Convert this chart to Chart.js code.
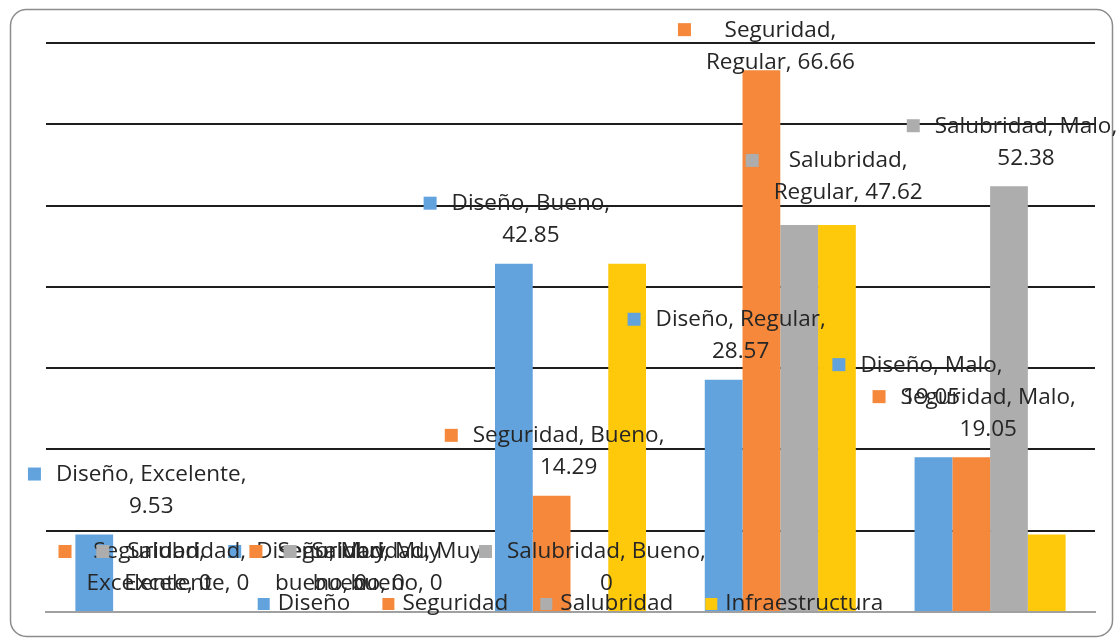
<!DOCTYPE html>
<html>
<head>
<meta charset="utf-8">
<script src="https://cdn.jsdelivr.net/npm/chart.js@4.4.1/dist/chart.umd.min.js"></script>
<style>
  html, body { margin: 0; padding: 0; background: #fff; }
</style>
</head>
<body>
<canvas id="myChartCalificacion" width="1117" height="641"></canvas>
<script>
// categorias y valores (porcentajes) por aspecto evaluado
const categorias = ["Excelente", "Muy bueno", "Bueno", "Regular", "Malo"];
const aspectos = ["Diseño", "Seguridad", "Salubridad", "Infraestructura"];
const valoresDiseno = [9.53, 0, 42.85, 28.57, 19.05];
const valoresSeguridad = [0, 0, 14.29, 66.66, 19.05];
const valoresSalubridad = [0, 0, 0, 47.62, 52.38];
const valoresInfraestructura = [0, 0, 42.85, 47.62, 9.53];
const ticksY = [0, 10, 20, 30, 40, 50, 60, 70];

const colores = ["#62A3DD", "#F5883A", "#ADADAD", "#FFC90B"];
const fuente = "22.5px 'Open Sans'";
const colorTexto = "#262626";

// ajuste manual de algunas etiquetas: [dx desde el centro de la barra, dy desde el tope]
const desplazamientos = {
  "0-0": [57, -28],
  "0-4": [-2, -60],
  "1-3": [19, -8],
  "2-3": [49, -32],
};
// cuantas palabras van en la primera linea de la etiqueta
const cortes = { "1-0": 1, "2-0": 1, "1-3": 1, "2-3": 1 };

const ctxCalificacion = document.getElementById("myChartCalificacion").getContext("2d");

/*------------------------------------------
Marco redondeado alrededor del grafico
-------------------------------------------*/
const marcoPlugin = {
  id: "marco",
  beforeDraw(chart) {
    const ctx = chart.ctx;
    ctx.save();
    ctx.strokeStyle = "#8c8c8c";
    ctx.lineWidth = 1.5;
    ctx.beginPath();
    ctx.roundRect(10.5, 9.5, 1102, 627, 16);
    ctx.stroke();
    ctx.restore();
  },
};

/*------------------------------------------
Etiquetas de datos estilo "serie, categoria, valor" con su cuadrito
-------------------------------------------*/
const etiquetasPlugin = {
  id: "etiquetas",
  afterDatasetsDraw(chart) {
    const ctx = chart.ctx;
    ctx.save();
    ctx.font = fuente;
    ctx.textAlign = "center";
    ctx.textBaseline = "middle";
    chart.data.datasets.forEach((ds, di) => {
      if (!ds.conEtiqueta) return;
      chart.getDatasetMeta(di).data.forEach((bar, i) => {
        const clave = di + "-" + i;
        const off = desplazamientos[clave] || [17, -28];
        const corte = cortes[clave] || 2;
        const palabras = `${ds.label}, ${categorias[i]}, ${ds.data[i]}`.split(" ");
        const lineas = [palabras.slice(0, corte).join(" "), palabras.slice(corte).join(" ")];
        const cx = bar.x + off[0];
        const y2 = bar.y + off[1];
        const y1 = y2 - 32;
        const ancho = Math.max(...lineas.map((l) => ctx.measureText(l).width));
        const izq = cx - ancho / 2;
        ctx.fillStyle = ds.backgroundColor;
        ctx.fillRect(izq - 28, y1 - 7, 13, 13);
        ctx.fillStyle = colorTexto;
        ctx.fillText(lineas[0], cx, y1);
        ctx.fillText(lineas[1], cx, y2);
      });
    });
    ctx.restore();
  },
};

/*------------------------------------------
Leyenda abajo, encima del area del grafico
-------------------------------------------*/
const leyendaPlugin = {
  id: "leyendaAbajo",
  afterDraw(chart) {
    const ctx = chart.ctx;
    const area = chart.chartArea;
    ctx.save();
    ctx.font = fuente;
    ctx.textBaseline = "middle";
    const items = chart.data.datasets.map((ds) => ({
      texto: ds.label,
      color: ds.backgroundColor,
      ancho: 20 + ctx.measureText(ds.label).width,
    }));
    const sep = 32;
    const total = items.reduce((s, it) => s + it.ancho, 0) + sep * (items.length - 1);
    let x = (area.left + area.right) / 2 - total / 2;
    const y = 604;
    items.forEach((it) => {
      ctx.fillStyle = it.color;
      ctx.fillRect(x, y - 6, 12, 12);
      ctx.fillStyle = colorTexto;
      ctx.fillText(it.texto, x + 20, y);
      x += it.ancho + sep;
    });
    ctx.restore();
  },
};

const valores = [valoresDiseno, valoresSeguridad, valoresSalubridad, valoresInfraestructura];

const myChartCalificacion = new Chart(ctxCalificacion, {
  type: "bar",
  data: {
    labels: categorias,
    datasets: aspectos.map((nombre, k) => ({
      label: nombre,
      data: valores[k],
      backgroundColor: colores[k],
      borderWidth: 0,
      categoryPercentage: 0.72,
      barPercentage: 1,
      conEtiqueta: k < 3,
    })),
  },
  options: {
    responsive: false,
    animation: false,
    layout: {
      padding: { left: 46, right: 22, top: 43, bottom: 29 },
    },
    plugins: {
      legend: { display: false },
      tooltip: { enabled: false },
    },
    scales: {
      x: {
        grid: { display: false, drawTicks: false },
        ticks: { display: false },
        border: { color: "#a0a0a0", width: 2 },
      },
      y: {
        min: ticksY[0],
        max: ticksY[ticksY.length - 1],
        afterBuildTicks: (axis) => {
          axis.ticks = ticksY.map((v) => ({ value: v }));
        },
        ticks: { display: false },
        grid: {
          drawTicks: false,
          lineWidth: 2,
          color: (c) => (c.tick && c.tick.value === 0 ? "#a0a0a0" : "#1e1e1e"),
        },
        border: { display: false },
      },
    },
  },
  plugins: [marcoPlugin, etiquetasPlugin, leyendaPlugin],
});
</script>
</body>
</html>
